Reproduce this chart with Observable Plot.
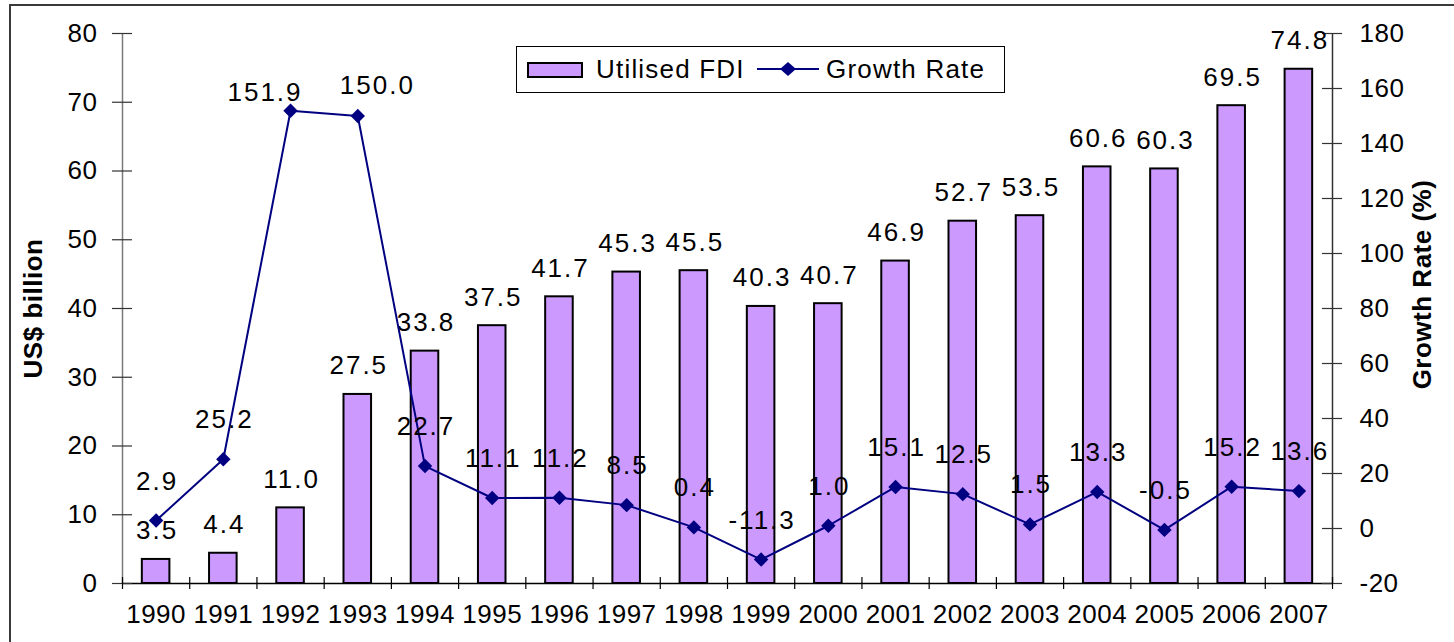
<!DOCTYPE html>
<html>
<head>
<meta charset="utf-8">
<script src="https://cdn.jsdelivr.net/npm/d3@7"></script>
<script src="https://cdn.jsdelivr.net/npm/@observablehq/plot@0.6"></script>
<style>
  html, body { margin: 0; padding: 0; background: #fff; overflow: hidden; }
  #wrap { position: relative; width: 1454px; height: 642px; overflow: hidden;
          font-family: "Liberation Sans", Arial, sans-serif; background: #fff; }
  #frame { position: absolute; left: 9px; top: 4px; width: 1470px; height: 680px;
           border: 2px solid #3a3a3a; box-sizing: border-box; pointer-events: none; }
  #wrap svg text { letter-spacing: 0.5px; }
  #wrap svg g[font-weight="normal"] text { letter-spacing: 2px; }
  #legend { position: absolute; left: 516px; top: 46px; width: 489px; height: 47px;
            border: 1px solid #000; box-sizing: border-box; background: #fff; }
  #legend .sw { position: absolute; left: 10px; top: 15px; width: 56px; height: 16px;
                background: #CC99FF; border: 2px solid #000; box-sizing: border-box; }
  #legend .lab { position: absolute; top: 0; line-height: 45px; font-size: 26px; letter-spacing: 1.2px; color: #000; white-space: nowrap; }
  #legend svg.ln { position: absolute; left: 240px; top: 11px; }
</style>
</head>
<body>
<div id="wrap">
  <div id="frame"></div>
</div>
<script>
// ---- data ----
const years = [1990, 1991, 1992, 1993, 1994, 1995, 1996, 1997, 1998, 1999, 2000, 2001, 2002, 2003, 2004, 2005, 2006, 2007];
const fdi = [3.5, 4.4, 11.0, 27.5, 33.8, 37.5, 41.7, 45.3, 45.5, 40.3, 40.7, 46.9, 52.7, 53.5, 60.6, 60.3, 69.5, 74.8];
const growth = [2.9, 25.2, 151.9, 150.0, 22.7, 11.1, 11.2, 8.5, 0.4, -11.3, 1.0, 15.1, 12.5, 1.5, 13.3, -0.5, 15.2, 13.6];
const leftTicks = [0, 10, 20, 30, 40, 50, 60, 70, 80];
const rightTicks = [-20, 0, 20, 40, 60, 80, 100, 120, 140, 160, 180];
const leftTitle = "US$ billion";
const rightTitle = "Growth Rate (%)";
const seriesNames = ["Utilised FDI", "Growth Rate"];

// ---- styling ----
const barFill = "#CC99FF";
const lineColor = "#000080";
const barHalf = 0.205;

const rows = years.map((year, i) => ({year, fdi: fdi[i], growth: growth[i]}));
const xDomain = [years[0] - 0.5, years[years.length - 1] + 0.5];
const boundaries = years.map(y => y - 0.5).concat([years[years.length - 1] + 0.5]);
const yMin = leftTicks[0], yMax = leftTicks[leftTicks.length - 1];
const gMin = rightTicks[0], gMax = rightTicks[rightTicks.length - 1];
const gY = g => yMin + (g - gMin) * (yMax - yMin) / (gMax - gMin);

// growth labels: regular ones sit above their point; the two crowded peaks are nudged apart
const normalG = rows.filter(d => d.growth < 100);
const peakG = rows.filter(d => d.growth >= 100);

const chart = Plot.plot({
  width: 1454,
  height: 642,
  marginLeft: 122,
  marginRight: 122,
  marginTop: 33,
  marginBottom: 59,
  x: {type: "linear", domain: xDomain, axis: null},
  y: {domain: [yMin, yMax], axis: null},
  style: {fontFamily: "'Liberation Sans', Arial, sans-serif", fontSize: "26px", color: "#000", background: "transparent", overflow: "visible"},
  marks: [
    // bars
    Plot.rect(rows, {x1: d => d.year - barHalf, x2: d => d.year + barHalf, y1: 0, y2: "fdi", fill: barFill, stroke: "#000", strokeWidth: 2}),
    // axes lines
    Plot.ruleX([xDomain[0]], {y1: yMin, y2: yMax, stroke: "#7a7a7a", strokeWidth: 1.5}),
    Plot.ruleX([xDomain[1]], {y1: yMin, y2: yMax, stroke: "#333", strokeWidth: 1.5}),
    Plot.ruleY([yMin], {x1: xDomain[0], x2: xDomain[1], stroke: "#000", strokeWidth: 1.5}),
    // left ticks
    Plot.ruleY(leftTicks, {y: d => d, x1: xDomain[0], x2: xDomain[0], insetLeft: -10, insetRight: -10, stroke: "#333", strokeWidth: 1.2}),
    // right ticks
    Plot.ruleY(rightTicks, {y: d => gY(d), x1: xDomain[1], x2: xDomain[1], insetLeft: -10, insetRight: -10, stroke: "#333", strokeWidth: 1.2}),
    // x ticks at category boundaries
    Plot.ruleX(boundaries, {x: d => d, y1: yMin, y2: yMin, insetTop: -6, insetBottom: -6, stroke: "#000", strokeWidth: 1.2}),
    // tick labels
    Plot.text(leftTicks, {x: xDomain[0], y: d => d, text: d => String(d), textAnchor: "end", dx: -25}),
    Plot.text(rightTicks, {x: xDomain[1], y: d => gY(d), text: d => String(d), textAnchor: "start", dx: 27}),
    Plot.text(years, {x: d => d, y: yMin, text: d => String(d), dy: 31}),
    // bar value labels
    Plot.text(rows, {x: "year", y: "fdi", text: d => d.fdi.toFixed(1), lineAnchor: "bottom", dy: -20, dx: 1, fontWeight: "normal"}),
    // growth line
    Plot.line(rows, {x: "year", y: d => gY(d.growth), stroke: lineColor, strokeWidth: 2}),
    Plot.dot(rows, {x: "year", y: d => gY(d.growth), symbol: "diamond2", r: 6.5, fill: lineColor, stroke: "none"}),
    // growth labels
    Plot.text(normalG, {x: "year", y: d => gY(d.growth), text: d => d.growth.toFixed(1), lineAnchor: "bottom", dy: -31, dx: 1, fontWeight: "normal"}),
    Plot.text(peakG.slice(0, 1), {x: "year", y: d => gY(d.growth), text: d => d.growth.toFixed(1), lineAnchor: "bottom", textAnchor: "end", dy: -10, dx: 12, fontWeight: "normal"}),
    Plot.text(peakG.slice(1), {x: "year", y: d => gY(d.growth), text: d => d.growth.toFixed(1), lineAnchor: "bottom", textAnchor: "start", dy: -22, dx: -18, fontWeight: "normal"}),
    // axis titles
    Plot.text([leftTitle], {frameAnchor: "left", text: d => d, rotate: -90, textAnchor: "middle", dx: -89, fontWeight: "bold"}),
    Plot.text([rightTitle], {frameAnchor: "right", text: d => d, rotate: -90, textAnchor: "middle", dx: 90, dy: -24, fontWeight: "bold"})
  ]
});

const wrap = document.getElementById("wrap");
wrap.insertBefore(chart, wrap.firstChild);

// legend
const legend = document.createElement("div");
legend.id = "legend";
legend.innerHTML = `
  <div class="sw"></div>
  <div class="lab" style="left:79px">${seriesNames[0]}</div>
  <svg class="ln" width="62" height="22"><line x1="0" y1="11" x2="62" y2="11" stroke="${lineColor}" stroke-width="2"/><path d="M31,4 L39,11 L31,18 L23,11 Z" fill="${lineColor}"/></svg>
  <div class="lab" style="left:309px">${seriesNames[1]}</div>`;
wrap.appendChild(legend);
</script>
</body>
</html>
